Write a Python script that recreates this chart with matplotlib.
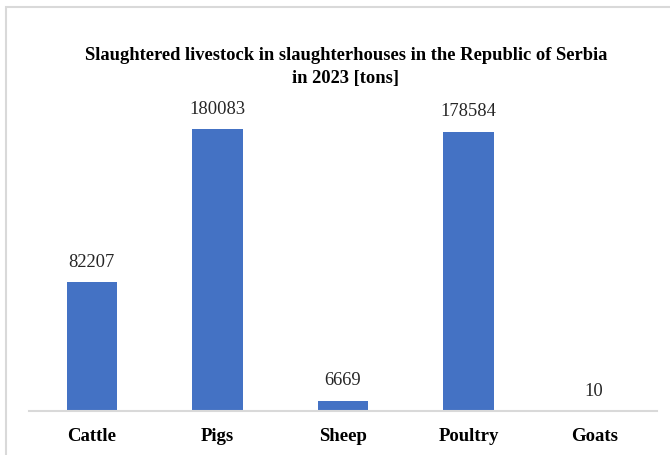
import matplotlib
matplotlib.use("Agg")
import matplotlib.pyplot as plt
from matplotlib.patches import Rectangle

categories = ["Cattle", "Pigs", "Sheep", "Poultry", "Goats"]
values = [82207, 180083, 6669, 178584, 10]
title = "Slaughtered livestock in slaughterhouses in the Republic of Serbia\nin 2023 [tons]"

plt.rcParams['font.family'] = ['Liberation Serif', 'DejaVu Serif']

W, H = 670, 455
fig = plt.figure(figsize=(W / 100, H / 100), dpi=100)
fig.patch.set_facecolor("white")

# chart frame (left and top edges visible)
fig.add_artist(Rectangle((6 / W, -0.2), 1.2, (H - 7) / H + 0.2, transform=fig.transFigure,
                         fill=False, edgecolor="#d9d9d9", linewidth=1.5))

ax = fig.add_axes([29 / W, (H - 411) / H, (657 - 29) / W, (411 - 98) / H])
x = list(range(len(categories)))
bars = ax.bar(x, values, width=0.4, color="#4472C4", zorder=2)
ax.set_xlim(-0.5, len(categories) - 0.5)
ax.set_ylim(0, 200000)

for xi, v in zip(x, values):
    ax.annotate(f"{v}", (xi, v), xytext=(0, 8), textcoords="offset points",
                ha="center", va="bottom", fontsize=13.3, color="#262626")

for s in ["top", "right", "left"]:
    ax.spines[s].set_visible(False)
ax.spines["bottom"].set_color("#d9d9d9")
ax.spines["bottom"].set_linewidth(1.5)
ax.set_yticks([])
ax.set_xticks(x)
ax.set_xticklabels(categories, fontsize=13.5, fontweight="bold", color="black")
ax.tick_params(axis="x", length=0, pad=12)

fig.text(346 / W, (H - 67) / H, title, ha="center", va="center", fontsize=13.3,
         fontweight="bold", color="black", linespacing=1.45)

fig.savefig("out.png", dpi=100)
